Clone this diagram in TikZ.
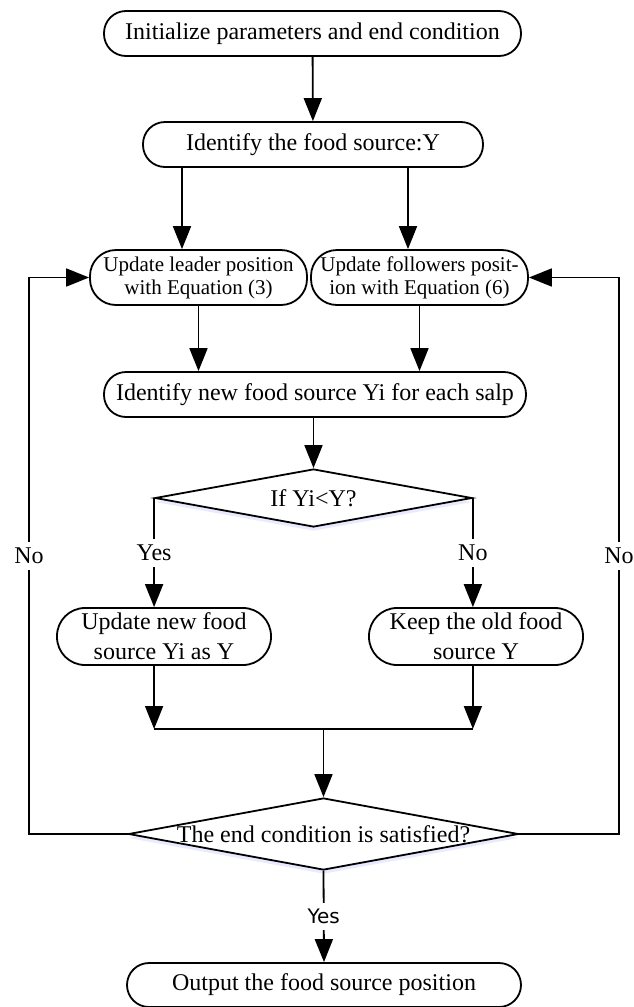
\documentclass[tikz,border=0pt]{standalone}
\usepackage{fontspec}
\setmainfont{Liberation Serif}
\newfontfamily\yesfont{DejaVu Sans}
\usetikzlibrary{arrows.meta}
\usetikzlibrary{shapes.geometric}
\usetikzlibrary{shadows}

\begin{document}
\begin{tikzpicture}[x=0.5pt,y=-0.5pt,
  box/.style={draw,line width=0.9pt,rounded corners=11pt,align=center,inner sep=0pt,
    font=\fontsize{12}{15}\selectfont},
  decide/.style={draw,diamond,line width=0.9pt,inner sep=0pt,fill=white,
    label={[font=\fontsize{12}{15}\selectfont]center:#1},
    drop shadow={shadow xshift=0pt,shadow yshift=-2pt,fill=blue!25!white,opacity=0.35}},
  arr/.style={line width=0.9pt,-{Triangle[length=11.5pt,width=9pt]}},
  line/.style={line width=0.9pt},
  lbl/.style={fill=white,inner sep=3pt,font=\fontsize{12}{14}\selectfont}]
\useasboundingbox (0,0) rectangle (633,1007);

% boxes
\node[box,minimum width=208.5pt,minimum height=22.5pt] (init) at (312.5,33.5)
  {Initialize parameters and end condition};
\node[box,minimum width=170pt,minimum height=22.5pt] (ident) at (313,144.5)
  {Identify the food source:Y};
\node[box,rounded corners=13pt,minimum width=108.5pt,minimum height=27.5pt,
  font=\fontsize{10.5}{11.5}\selectfont] (leader) at (198.5,277.5)
  {Update leader position\\with Equation (3)};
\node[box,rounded corners=13pt,minimum width=108.5pt,minimum height=27.5pt,
  font=\fontsize{10.5}{11.5}\selectfont] (follow) at (419.5,277.5)
  {Update followers posit-\\ion with Equation (6)};
\node[box,minimum width=211pt,minimum height=22.5pt] (newsrc) at (315,394.5)
  {Identify new food source Yi for each salp};
\node[decide={If Yi<Y?},minimum width=158.5pt,minimum height=29pt] (ifyi) at (313.5,498) {};
\node[box,rounded corners=14pt,minimum width=107pt,minimum height=28.5pt] (upd) at (164,636.5)
  {Update new food\\source Yi as Y};
\node[box,rounded corners=14pt,minimum width=107pt,minimum height=28.5pt] (keep) at (476,636.5)
  {Keep the old food\\source Y};
\coordinate (join) at (323.5,729);
\node[decide={The end condition is satisfied?},minimum width=195pt,minimum height=36pt]
  (endc) at (323.5,834) {};
\node[box,minimum width=197pt,minimum height=22pt] (out) at (324,985)
  {Output the food source position};
\coordinate (loopL) at (29,0);
\coordinate (loopR) at (619,0);
\coordinate (splitL) at (182,0);
\coordinate (splitR) at (408,0);

% connectors
\draw[arr] (init) -- (ident);
\draw[arr] (ident.south -| splitL) -- (leader.north -| splitL);
\draw[arr] (ident.south -| splitR) -- (follow.north -| splitR);
\draw[arr] (leader) -- (leader |- newsrc.north);
\draw[arr] (follow) -- (follow |- newsrc.north);
\draw[arr] (newsrc.south -| ifyi.north) -- (ifyi.north);
\draw[arr] (ifyi.west) -- node[lbl]{Yes} (ifyi.west |- upd.north);
\draw[arr] (ifyi.east) -- node[lbl]{No} (ifyi.east |- keep.north);
\draw[arr] (upd.south -| ifyi.west) -- (ifyi.west |- join);
\draw[arr] (keep.south -| ifyi.east) -- (ifyi.east |- join);
\draw[line] (ifyi.west |- join) -- (ifyi.east |- join);
\draw[arr] (join) -- (endc.north);
\draw[arr] (endc.west) -| node[lbl,pos=0.75]{No} (loopL |- leader) -- (leader.west);
\draw[arr] (endc.east) -| node[lbl,pos=0.75]{No} (loopR |- follow) -- (follow.east);
\draw[arr] (endc.south) -- node[lbl,font=\yesfont\fontsize{10}{12}\selectfont]{Yes} (out.north);
\end{tikzpicture}
\end{document}
